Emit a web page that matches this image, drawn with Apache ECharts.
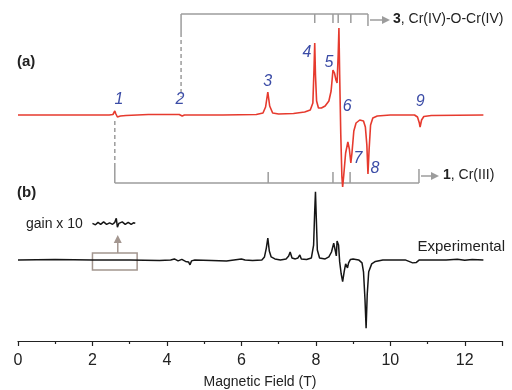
<!DOCTYPE html>
<html><head><meta charset="utf-8">
<script src="https://cdn.jsdelivr.net/npm/echarts/dist/echarts.min.js"></script>
<style>html,body{margin:0;padding:0;background:#fff}#c{width:512px;height:390px}</style>
</head><body><div id="c"></div>
<script>
// ---- data (field in T, intensity in arbitrary units) ----
const xTicks = [0, 2, 4, 6, 8, 10, 12];
const simulated = [[0,0],[2.45,0],[2.55,0.5],[2.6,4],[2.63,1],[2.67,-2],[2.75,-1],[2.9,-0.5],[3.5,0.5],[4.2,0.5],[4.33,0.5],[4.37,2.5],[4.41,-1],[4.47,0],[5.5,0],[6.4,0.5],[6.58,2],[6.65,8],[6.71,23],[6.76,9],[6.84,2],[7.0,1],[7.4,1.5],[7.7,3],[7.85,5],[7.92,12],[7.95,45],[7.97,72],[7.99,40],[8.02,14],[8.07,7],[8.15,7],[8.25,9],[8.35,14],[8.41,24],[8.46,45],[8.5,42],[8.54,35],[8.57,32],[8.6,60],[8.62,87],[8.64,40],[8.67,-20],[8.7,-62],[8.72,-72],[8.75,-60],[8.8,-38],[8.86,-27],[8.9,-34],[8.94,-48],[8.97,-38],[9.02,-16],[9.08,-8],[9.18,-5],[9.28,-6],[9.33,-12],[9.37,-30],[9.4,-59],[9.43,-35],[9.47,-10],[9.53,-3],[9.65,-1],[10.0,0],[10.65,0],[10.73,-2],[10.78,-8],[10.8,-12],[10.84,-5],[10.9,-1.5],[11.1,-0.5],[12.5,0]];
const experimental = [[0,0],[1.0,0.3],[2.0,0],[3.0,0],[3.8,-0.5],[4.1,0],[4.2,1],[4.3,-1],[4.4,0.5],[4.5,-1.5],[4.58,-2],[4.62,-5],[4.66,-1],[4.75,0],[5.2,-0.5],[5.6,-1],[5.8,0],[6.0,1],[6.1,0],[6.3,-0.5],[6.55,0],[6.62,3],[6.67,12],[6.71,22],[6.75,9],[6.8,3],[6.9,1],[7.05,0],[7.2,1],[7.27,4],[7.31,8],[7.36,2],[7.45,1],[7.52,2],[7.57,5],[7.61,1],[7.75,0.5],[7.88,2],[7.94,15],[7.97,50],[7.99,69],[8.01,45],[8.04,10],[8.1,2],[8.25,1],[8.35,3],[8.42,8],[8.48,17],[8.5,19],[8.53,8],[8.55,4],[8.57,19],[8.59,21],[8.61,15],[8.64,-2],[8.68,-14],[8.72,-22],[8.76,-12],[8.8,-4],[8.85,-8],[8.88,-3],[8.93,0.5],[9.0,1],[9.15,0],[9.24,-3],[9.28,-12],[9.32,-40],[9.35,-69],[9.38,-35],[9.42,-12],[9.5,-4],[9.6,-1.5],[9.8,0],[10.4,0],[10.5,-1.5],[10.6,-3],[10.7,-2.5],[10.78,0],[11.5,0],[11.8,0.7],[12.0,-0.3],[12.2,0.5],[12.5,0]];
const gainInset = [[2.0,0],[2.08,-1.5],[2.15,1],[2.22,-1],[2.3,1.5],[2.38,-1],[2.46,0.5],[2.54,-1],[2.6,1],[2.64,5],[2.67,-4],[2.71,0],[2.8,1.5],[2.88,-1],[2.96,1],[3.04,-1],[3.1,0.5],[3.15,0]];
const peakNames = ['1','2','3','4','5','6','7','8','9'];
const peakFields = [2.71, 4.35, 6.71, 7.76, 8.35, 8.84, 9.13, 9.59, 10.8];
const cr4Start = 4.38, cr4End = 9.4;
const cr4Ticks = [7.97, 8.46, 8.6, 8.94];
const cr3Start = 2.6, cr3End = 10.77;
const cr3Ticks = [6.72, 8.46, 8.92];
const gainBox = [2.0, 3.2];
const gainArrowField = 2.68;

// ---- layout ----
const peakLabelY = [100, 100, 82, 53, 63, 107, 159, 169, 102];
const GRAY = '#9c9c9c';
const FONT = 'Liberation Sans, Arial, sans-serif';

function line(x1, y1, x2, y2, color, dash, w) {
  return {type: 'line', shape: {x1, y1, x2, y2}, style: {stroke: color, lineWidth: w || 1.5, lineDash: dash || null}};
}
function tri(x, y, color) {
  return {type: 'polygon', shape: {points: [[x, y - 4], [x + 8, y], [x, y + 4]]}, style: {fill: color}};
}

const chart = echarts.init(document.getElementById('c'));
chart.setOption({
  animation: false,
  backgroundColor: '#fff',
  grid: [
    {left: 18, right: 10, top: 0, height: 200},
    {left: 18, right: 10, top: 163, bottom: 47}
  ],
  xAxis: [
    {gridIndex: 0, type: 'value', min: 0, max: 13, show: false},
    {gridIndex: 1, type: 'value', min: 0, max: 13, interval: 2,
      axisLine: {onZero: false, lineStyle: {color: '#222', width: 1.2}},
      axisTick: {length: 5, lineStyle: {color: '#222', width: 1.2}},
      minorTick: {show: true, splitNumber: 2, length: 3, lineStyle: {color: '#222', width: 1.2}},
      splitLine: {show: false},
      axisLabel: {fontSize: 16, color: '#222', margin: 12, fontFamily: FONT,
        formatter: v => (xTicks.indexOf(v) >= 0 ? String(v) : '')},
      name: 'Magnetic Field (T)', nameLocation: 'middle', nameGap: 34,
      nameTextStyle: {fontSize: 14, color: '#222', fontFamily: FONT}}
  ],
  yAxis: [
    {gridIndex: 0, type: 'value', min: -85, max: 115, show: false},
    {gridIndex: 1, type: 'value', min: -82, max: 98, show: false},
    {gridIndex: 1, type: 'value', min: -119, max: 61, show: false}
  ],
  series: [
    {type: 'custom', xAxisIndex: 0, yAxisIndex: 0, z: 1, data: [[0, 0]], silent: true,
      renderItem: function (params, api) {
        const px = t => api.coord([t, 0])[0];
        const ch = [];
        // compound 3 bracket (top)
        const a = px(cr4Start), b = px(cr4End);
        ch.push(line(a, 14, b, 14, GRAY));
        ch.push(line(a, 14, a, 33, GRAY));
        ch.push(line(a, 33, a, 97, GRAY, [4, 3]));
        cr4Ticks.forEach(t => ch.push(line(px(t), 14, px(t), 23, GRAY)));
        ch.push(line(b, 14, b, 26, GRAY));
        ch.push(line(b + 2, 20, b + 15, 20, GRAY));
        ch.push(tri(b + 14, 20, GRAY));
        // compound 1 bracket (bottom)
        const c = px(cr3Start), d = px(cr3End);
        ch.push(line(c, 183, d, 183, GRAY));
        ch.push(line(c, 183, c, 167, GRAY));
        ch.push(line(c, 167, c, 118, GRAY, [4, 3]));
        cr3Ticks.forEach(t => ch.push(line(px(t), 183, px(t), 172, GRAY)));
        ch.push(line(d, 169, d, 183, GRAY));
        ch.push(line(d + 2, 176, d + 13, 176, GRAY));
        ch.push(tri(d + 12, 176, GRAY));
        // peak numbers
        peakNames.forEach((n, i) => ch.push({type: 'text', x: px(peakFields[i]), y: peakLabelY[i],
          style: {text: n, fill: '#3b4ca6', font: 'italic 16px ' + FONT, align: 'center', verticalAlign: 'middle',
            textAlign: 'center', textVerticalAlign: 'middle'}}));
        return {type: 'group', children: ch};
      }
    },
    {type: 'line', name: 'simulated', xAxisIndex: 0, yAxisIndex: 0, z: 3, data: simulated, showSymbol: false,
      lineStyle: {color: '#e63a2e', width: 1.6}},
    {type: 'custom', xAxisIndex: 1, yAxisIndex: 1, z: 1, data: [[0, 0]], silent: true,
      renderItem: function (params, api) {
        const px = t => api.coord([t, 0])[0];
        const x1 = px(gainBox[0]), x2 = px(gainBox[1]), xa = px(gainArrowField);
        const col = '#a3968f';
        return {type: 'group', children: [
          {type: 'rect', shape: {x: x1, y: 253, width: x2 - x1, height: 17}, style: {stroke: col, fill: null, lineWidth: 1.5}},
          line(xa, 253, xa, 241, col),
          {type: 'polygon', shape: {points: [[xa - 4, 243], [xa, 235], [xa + 4, 243]]}, style: {fill: col}}
        ]};
      }
    },
    {type: 'line', name: 'experimental', xAxisIndex: 1, yAxisIndex: 1, z: 3, data: experimental, showSymbol: false,
      lineStyle: {color: '#151515', width: 1.5}},
    {type: 'line', name: 'gain', xAxisIndex: 1, yAxisIndex: 2, z: 3, data: gainInset, showSymbol: false,
      lineStyle: {color: '#151515', width: 1.5}}
  ],
  graphic: [
    {type: 'text', left: 17, top: 54, style: {text: '(a)', font: 'bold 15px ' + FONT, fill: '#222'}},
    {type: 'text', left: 17, top: 185, style: {text: '(b)', font: 'bold 15px ' + FONT, fill: '#222'}},
    {type: 'text', left: 26, top: 217, style: {text: 'gain x 10', font: '14px ' + FONT, fill: '#222'}},
    {type: 'text', right: 7, top: 239, style: {text: 'Experimental', font: '15px ' + FONT, fill: '#222'}},
    {type: 'text', left: 393, top: 12, style: {text: '{b|3}, Cr(IV)-O-Cr(IV)', font: '14px ' + FONT, fill: '#222',
      rich: {b: {fontWeight: 'bold', fontSize: 14, fontFamily: FONT, fill: '#222'}}}},
    {type: 'text', left: 443, top: 168, style: {text: '{b|1}, Cr(III)', font: '14px ' + FONT, fill: '#222',
      rich: {b: {fontWeight: 'bold', fontSize: 14, fontFamily: FONT, fill: '#222'}}}}
  ]
});
</script></body></html>
